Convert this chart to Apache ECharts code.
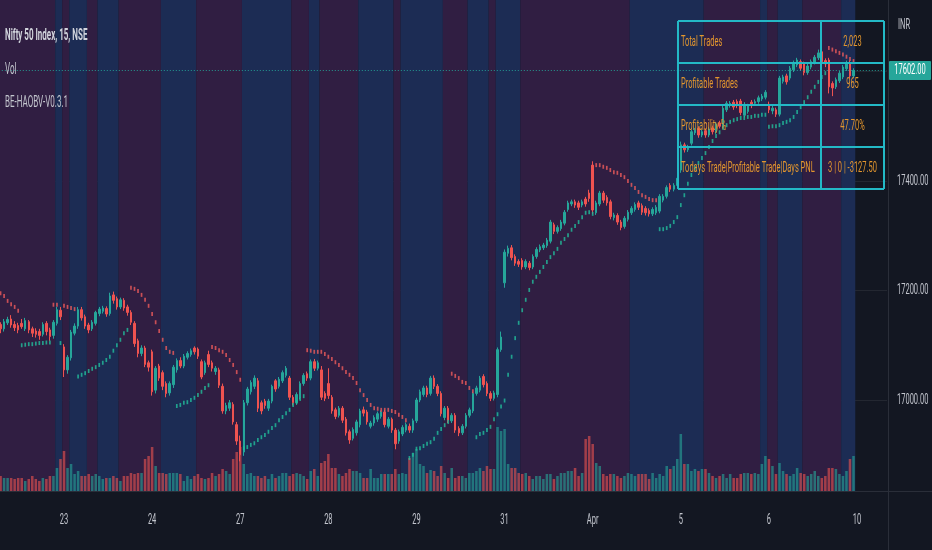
<!DOCTYPE html>
<html><head><meta charset="utf-8">
<script src="https://cdn.jsdelivr.net/npm/echarts@6/dist/echarts.min.js"></script>
<style>html,body{margin:0;padding:0;background:#131722;}#c{width:932px;height:550px;}</style>
</head><body><div id="c"></div>
<script>
// ---------------- DATA ----------------
const sessionDays = ['03-22','03-23','03-24','03-27','03-28','03-29','03-31','04-03','04-05','04-06','04-10'];
const slots = ['09:15','09:30','09:45','10:00','10:15','10:30','10:45','11:00','11:15','11:30','11:45','12:00','12:15','12:30','12:45','13:00','13:15','13:30','13:45','14:00','14:15','14:30','14:45','15:00','15:15'];
const firstSlotShown = 7;      // 22 Mar starts at 11:00 on screen
const futureSlots = 9;         // empty space for 10 Apr
const dayLabels = ['23','24','27','28','29','31','Apr','5','6','10'];   // for sessionDays[1..10]
const priceTicks = [17000, 17200, 17400];
const axisCurrency = 'INR';
const titleLines = ['Nifty 50 Index, 15, NSE', 'Vol', 'BE-HAOBV-V0.3.1'];
const tableLabels = ['Total Trades', 'Profitable Trades', 'Profitability %', 'Todays Trade|Profitable Trade|Days PNL'];
const tableValues = ['2,023', '965', '47.70%', '3 | 0 | -3127.50'];

// [open, close, low, high] per 15-minute bar
const ohlc = [
// 22 Mar
[17138,17130,17122,17142],[17130,17143,17125,17148],[17141,17147,17137,17152],[17148,17137,17132,17155],[17138,17132,17126,17144],[17136,17128,17122,17141],[17140,17134,17130,17148],[17130,17145,17126,17150],[17143,17128,17122,17146],[17130,17122,17115,17134],[17126,17120,17114,17131],[17125,17118,17110,17130],[17120,17138,17116,17142],[17140,17125,17118,17144],[17128,17116,17108,17132],[17118,17142,17112,17146],[17140,17165,17136,17170],[17164,17152,17146,17170],
// 23 Mar
[17097,17055,17042,17102],[17055,17078,17048,17082],[17077,17124,17072,17128],[17122,17135,17118,17140],[17135,17165,17130,17170],[17165,17150,17145,17170],[17152,17135,17130,17156],[17137,17128,17122,17141],[17130,17142,17126,17146],[17140,17160,17136,17163],[17158,17166,17153,17170],[17162,17168,17158,17172],[17167,17157,17152,17171],[17158,17190,17154,17196],[17192,17182,17176,17198],[17185,17170,17165,17189],[17170,17183,17166,17187],[17182,17168,17163,17186],[17170,17160,17154,17174],[17160,17142,17137,17164],[17140,17103,17097,17144],[17108,17085,17078,17112],[17085,17095,17080,17100],[17095,17065,17060,17099],[17068,17060,17052,17072],
// 24 Mar
[17088,17015,17008,17092],[17018,17058,17012,17062],[17062,17040,17035,17066],[17050,17025,17018,17054],[17030,17012,17005,17034],[17013,17030,17008,17034],[17028,17060,17022,17064],[17055,17072,17050,17076],[17072,17062,17058,17078],[17062,17080,17058,17084],[17078,17085,17074,17089],[17083,17090,17079,17094],[17095,17088,17083,17098],[17093,17080,17075,17096],[17070,17042,17038,17074],[17050,17068,17046,17072],[17083,17065,17060,17090],[17068,17058,17052,17072],[17052,17058,17046,17062],[17055,17027,17022,17059],[17025,16980,16975,17030],[16980,16990,16974,16995],[16985,16995,16980,17000],[16992,16960,16955,16996],[16955,16925,16918,16960],
// 27 Mar
[16925,16900,16888,16935],[16905,16995,16898,17000],[16995,17020,16990,17024],[17015,17032,17010,17036],[17025,17040,17020,17045],[17035,16985,16978,17040],[16995,16980,16974,16999],[16998,16990,16984,17002],[16985,16998,16980,17002],[16998,17025,16994,17028],[17035,17020,17015,17038],[17025,17038,17021,17042],[17035,17050,17031,17054],[17045,17058,17041,17062],[17040,17005,17000,17044],[17005,16995,16990,17009],[16995,17010,16991,17014],[17005,17030,17001,17034],[17030,17045,17026,17049],[17048,17040,17035,17052],[17040,17070,17036,17074],[17070,17058,17053,17075],[17058,17068,17054,17072],[17055,17005,17000,17062],[17012,17003,16998,17016],
// 28 Mar
[17030,17008,17002,17058],[17005,16980,16975,17009],[16982,16970,16965,16986],[16972,16985,16968,16989],[16985,16963,16958,16989],[16965,16940,16935,16969],[16942,16927,16920,16946],[16930,16946,16926,16950],[16940,16960,16935,16964],[16955,16980,16950,16984],[16982,16976,16970,16988],[16978,16960,16955,16982],[16952,16958,16948,16962],[16958,16968,16953,16972],[16965,16975,16960,16979],[16970,16978,16966,16981],[16978,16955,16950,16982],[16952,16965,16948,16969],[16965,16945,16940,16968],[16945,16920,16910,16949],[16925,16942,16920,16946],[16938,16950,16934,16954],[16945,16955,16941,16959],[16952,16945,16940,16957],[16945,16962,16940,16966],
// 29 Mar
[16962,17000,16958,17004],[17000,17015,16996,17019],[17010,17022,17006,17026],[17022,17010,17005,17026],[17012,17040,17008,17044],[17040,17025,17020,17045],[17025,17012,17007,17029],[17012,16975,16970,17016],[16968,16985,16963,16989],[16985,16963,16958,16989],[16962,16972,16958,16976],[16972,16945,16940,16976],[16948,16940,16934,16952],[16940,16952,16936,16956],[16952,16972,16948,16976],[16972,16982,16968,16986],[16980,17012,16976,17015],[17012,17022,17008,17026],[17018,17040,17014,17044],[17043,17028,17023,17047],[17030,17012,17007,17034],[17012,17003,16998,17016],[17003,17013,16999,17017],[17010,17092,17005,17096],[17092,17115,17088,17125],
// 31 Mar
[17214,17270,17205,17275],[17268,17277,17262,17282],[17278,17260,17255,17283],[17262,17250,17245,17266],[17253,17248,17243,17257],[17255,17243,17238,17259],[17243,17253,17239,17257],[17250,17242,17237,17254],[17243,17262,17239,17266],[17262,17275,17258,17279],[17274,17280,17270,17284],[17278,17283,17274,17287],[17282,17292,17278,17296],[17290,17325,17286,17329],[17320,17308,17303,17324],[17308,17315,17304,17319],[17313,17325,17309,17329],[17323,17343,17319,17347],[17348,17360,17344,17364],[17358,17362,17354,17366],[17362,17356,17351,17366],[17360,17352,17347,17364],[17356,17362,17352,17366],[17367,17358,17353,17371],[17378,17368,17362,17384],
// 3 Apr
[17429,17347,17340,17436],[17342,17360,17338,17364],[17358,17378,17354,17382],[17378,17365,17360,17382],[17370,17360,17355,17374],[17362,17335,17330,17366],[17333,17338,17328,17342],[17337,17325,17320,17341],[17325,17315,17310,17329],[17317,17332,17313,17336],[17330,17343,17326,17347],[17342,17350,17338,17354],[17348,17357,17344,17361],[17360,17352,17347,17364],[17355,17343,17338,17359],[17350,17342,17337,17354],[17346,17340,17335,17350],[17340,17348,17336,17352],[17342,17352,17338,17356],[17345,17372,17341,17376],[17365,17372,17361,17376],[17372,17388,17368,17392],[17392,17385,17380,17396],[17385,17392,17381,17396],[17392,17405,17386,17410],
// 5 Apr
[17420,17466,17415,17472],[17466,17457,17452,17470],[17457,17462,17453,17466],[17469,17490,17465,17494],[17488,17493,17484,17497],[17496,17484,17479,17500],[17484,17490,17480,17494],[17492,17484,17479,17496],[17484,17495,17480,17499],[17497,17490,17485,17501],[17490,17504,17486,17508],[17506,17500,17496,17510],[17500,17533,17496,17537],[17530,17542,17526,17546],[17538,17542,17534,17546],[17544,17535,17530,17548],[17545,17538,17533,17549],[17546,17525,17520,17550],[17520,17540,17516,17544],[17527,17537,17523,17541],[17544,17538,17533,17548],[17542,17545,17538,17549],[17545,17552,17541,17556],[17550,17555,17546,17559],[17553,17562,17549,17566],
// 6 Apr
[17540,17530,17524,17545],[17528,17533,17522,17538],[17530,17522,17517,17534],[17522,17588,17518,17592],[17582,17590,17578,17594],[17592,17581,17576,17596],[17588,17606,17584,17610],[17603,17616,17599,17620],[17612,17621,17608,17625],[17618,17606,17601,17622],[17614,17598,17593,17618],[17598,17610,17594,17614],[17608,17618,17604,17622],[17617,17626,17613,17630],[17625,17634,17621,17640],[17636,17618,17613,17640],[17620,17614,17608,17624],[17621,17572,17560,17625],[17578,17570,17555,17582],[17572,17585,17568,17589],[17583,17597,17579,17601],[17590,17608,17586,17612],[17605,17616,17601,17620],[17616,17592,17587,17620],[17592,17602,17588,17606]
];

// volume (thousands) per bar
const volume = [
150,130,130,130,120,130,130,100,120,150,120,100,130,120,150,150,230,320,
400,230,270,170,200,150,150,170,150,170,150,120,130,130,150,130,100,150,150,180,170,180,180,320,350,
440,250,180,180,170,180,180,180,170,100,150,120,150,170,130,120,130,180,150,170,220,200,170,320,390,
440,270,170,180,150,150,130,150,120,170,130,150,180,180,150,170,180,170,150,120,200,220,150,280,300,
370,230,230,170,150,180,220,200,200,180,130,130,220,130,130,170,170,170,170,220,170,180,170,330,380,
420,270,250,180,210,200,150,250,180,130,230,130,150,150,130,180,180,200,230,200,250,220,220,640,600,
620,270,230,230,180,170,180,150,120,150,150,120,170,170,120,150,180,180,200,200,230,150,180,520,550,
470,280,250,170,150,170,170,150,130,150,180,170,150,170,170,170,120,180,130,170,150,250,220,250,320,
570,270,270,200,220,200,220,220,180,150,130,150,170,130,170,130,130,170,180,180,170,180,170,270,350,
320,250,170,280,200,170,150,170,230,180,170,150,170,200,150,130,150,230,230,220,170,150,200,320,350
];

// trailing stop dots (one value per bar)
const sar = [
17195,17190,17181,17175,17170,17163,
17100,17101,17102,17102,17103,17104,17104,17105,17105,
17174,17174,17104,17172,17170,17168,17166,
17043,17046,17049,17053,17057,17060,17064,17068,17073,17079,17090,17100,17110,17122,17128,
17205,17203,17199,17192,17183,17172,17157,17142,17126,17110,17095,17088,17086,
16989,16991,16995,16996,17000,17004,17009,17015,17022,17027,
17097,17095,17091,17088,17082,17073,17064,17051,17037,
16912,16914,16918,16921,16927,16932,16936,16942,16949,16954,16963,16969,16976,16982,16991,16996,17002,17007,
17091,17090,17088,17088,17088,17084,17079,17075,17069,17064,17058,17051,17046,17040,17031,17018,17009,17000,16991,16985,16984,16982,16982,16982,16980,16978,16973,16969,16963,
16894,16900,16911,16912,16916,16920,16923,16929,16940,16947,16954,16960,
17048,17044,17040,17033,17031,17022,17016,
16932,16938,16940,16945,16951,16965,16974,16988,16999,17046,17079,17113,17141,17164,17183,17201,17216,17225,17234,17243,17252,17261,17268,17276,17287,17294,17301,17311,17318,17325,17334,17342,17343,17340,
17429,17429,17426,17424,17420,17416,17415,17411,17407,17400,17393,17387,17380,17374,17371,17367,17365,17365,
17312,17312,17314,17318,17325,17334,17356,17374,17395,17411,17424,17433,17442,17451,17462,17473,17482,17489,17497,17502,17508,17511,17513,17515,17515,17517,17517,17519,17519,17521,17521,
17499,17500,17500,17502,17506,17508,17511,17517,17526,17535,17544,17553,17563,17572,17581,17590,17597,
17643,17640,17637,17634,17631,17627,17623,17619
];

// indicator background state per bar range [firstBar, lastBar, state]
const bgBands = [
[0,15,'bear'],[16,17,'bull'],[18,19,'bear'],[20,24,'bull'],[25,27,'bear'],[28,33,'bull'],[34,45,'bear'],[46,55,'bull'],
[56,68,'bear'],[69,82,'bull'],[83,87,'bear'],[88,90,'bull'],[91,101,'bear'],[102,111,'bull'],[112,113,'bear'],[114,125,'bull'],
[126,132,'bear'],[133,138,'bull'],[139,140,'bear'],[141,147,'bull'],[148,178,'bear'],[179,199,'bull'],[200,215,'bear'],
[216,217,'bull'],[218,220,'bear'],[221,227,'bull'],[228,238,'bear'],[239,242,'bull']
];

// ---------------- STYLE / BUILD ----------------
const C = {
  bg:'#131722', bear:'#301e42', bull:'#1c2c54', up:'#26a69a', down:'#ef5350',
  volUp:'rgba(38,166,154,0.6)', volDown:'rgba(239,83,80,0.6)',
  sarUp:'#22bf9c', sarDown:'#f05b5b', text:'#c3c6ce', title:'#d1d4dc',
  grid:'rgba(255,255,255,0.07)', sep:'#2a2e39', table:'#23b9c6', tableText:'#e3962e'
};
const cats = [];
sessionDays.forEach((d, i) => {
  const from = i === 0 ? firstSlotShown : 0;
  const to = i === sessionDays.length - 1 ? futureSlots : slots.length;
  for (let s = from; s < to; s++) cats.push(d + ' ' + slots[s]);
});
const nCat = cats.length;
const lastPrice = ohlc[ohlc.length - 1][1];

const sarAbove = sar.map((v, k) => v > ohlc[k][1] ? v : '-');
const sarBelow = sar.map((v, k) => v <= ohlc[k][1] ? v : '-');
const volData = volume.map((v, k) => ({
  value: v, itemStyle: { color: ohlc[k][1] >= ohlc[k][0] ? C.volUp : C.volDown }
}));
const bandAreas = bgBands.map(([s, e, st]) => [
  { xAxis: s - 0.5, itemStyle: { color: st === 'bear' ? C.bear : C.bull } },
  { xAxis: e + 0.5 }
]);

const L = -1.2, R = 45;
const gridBase = { outerBoundsMode: 'none', containLabel: false };
const option = {
  backgroundColor: C.bg,
  animation: false,
  grid: [
    Object.assign({ left: L, right: R, top: -38, bottom: 40.5 }, gridBase),   // price
    Object.assign({ left: L, right: R, top: 371, bottom: 59 }, gridBase),     // volume
    Object.assign({ left: L, right: R, top: 0, bottom: 59 }, gridBase)        // background
  ],
  xAxis: [
    { type: 'category', gridIndex: 0, data: cats, boundaryGap: true, show: false },
    { type: 'category', gridIndex: 1, data: cats, boundaryGap: true, show: false },
    { type: 'value', gridIndex: 2, min: -0.5, max: nCat - 0.5, show: false }
  ],
  yAxis: [
    { type: 'value', gridIndex: 0, position: 'right', min: 16800, max: 17800, interval: 200,
      axisLine: { show: false }, axisTick: { show: false }, axisLabel: { show: false },
      splitLine: { show: true, lineStyle: { width: 1,
        color: ['rgba(0,0,0,0)', C.grid, C.grid, C.grid, C.grid, 'rgba(0,0,0,0)'] } } },
    { type: 'value', gridIndex: 1, min: 0, max: 1200, show: false, splitLine: { show: false } },
    { type: 'value', gridIndex: 2, min: 0, max: 1, show: false, splitLine: { show: false } }
  ],
  series: [
    { type: 'line', xAxisIndex: 2, yAxisIndex: 2, data: [[0, 0]], symbol: 'none', silent: true, z: -10,
      lineStyle: { opacity: 0 }, markArea: { silent: true, data: bandAreas } },
    { type: 'bar', xAxisIndex: 1, yAxisIndex: 1, data: volData, barWidth: '72%', silent: true, z: 1 },
    { type: 'candlestick', xAxisIndex: 0, yAxisIndex: 0, data: ohlc, barWidth: 2, z: 3,
      itemStyle: { color: C.up, color0: C.down, borderColor: C.up, borderColor0: C.down, borderWidth: 1 },
      markLine: { silent: true, symbol: ['none', 'none'], label: { show: false },
        lineStyle: { color: C.up, type: [1, 2], width: 1, opacity: 0.9 },
        data: [{ yAxis: lastPrice }] } },
    { type: 'scatter', xAxisIndex: 0, yAxisIndex: 0, data: sarAbove, symbol: 'rect', symbolSize: [1.7, 4],
      itemStyle: { color: C.sarDown }, silent: true, z: 4 },
    { type: 'scatter', xAxisIndex: 0, yAxisIndex: 0, data: sarBelow, symbol: 'rect', symbolSize: [1.7, 4],
      itemStyle: { color: C.sarUp }, silent: true, z: 4 }
  ]
};

const chart = echarts.init(document.getElementById('c'));
chart.setOption(option);

// ---------------- TEXT / OVERLAYS (positions from the chart's scales) ----------------
const SX = 0.5, FF = 'Roboto, sans-serif';
function txt(x, y, text, o) {
  o = o || {};
  return { type: 'text', x: x, y: y, scaleX: SX, z: 100, silent: true,
    style: { text: text, fill: o.fill || C.text, fontSize: o.size || 15, fontFamily: FF,
      fontWeight: o.weight || 'normal', align: o.align || 'left', verticalAlign: 'middle' } };
}
const g = [];
// separators
g.push({ type: 'line', z: 90, silent: true, shape: { x1: 0, y1: 491.5, x2: 932, y2: 491.5 }, style: { stroke: C.sep, lineWidth: 1 } });
g.push({ type: 'line', z: 90, silent: true, shape: { x1: 888.5, y1: 0, x2: 888.5, y2: 550 }, style: { stroke: C.sep, lineWidth: 1 } });
// price axis labels
priceTicks.forEach(v => {
  const y = chart.convertToPixel({ yAxisIndex: 0 }, v);
  g.push(txt(897, y, v.toFixed(2)));
});
g.push(txt(898, 25, axisCurrency));
// last price badge
const yp = chart.convertToPixel({ yAxisIndex: 0 }, lastPrice);
g.push({ type: 'rect', z: 99, silent: true, shape: { x: 889, y: yp - 9.5, width: 42, height: 19, r: 1 }, style: { fill: C.up } });
g.push(txt(910, yp, lastPrice.toFixed(2), { fill: '#ffffff', align: 'center' }));
// day labels
dayLabels.forEach((t, i) => {
  const x = chart.convertToPixel({ xAxisIndex: 1 }, sessionDays[i + 1] + ' ' + slots[0]);
  g.push(txt(x, 520, t, { align: 'center' }));
});
// legend texts
g.push(txt(5, 36, titleLines[0], { fill: C.title, size: 16, weight: 'bold' }));
g.push(txt(5, 70, titleLines[1], { size: 16 }));
g.push(txt(5, 103, titleLines[2], { size: 16 }));
// stats table
const tx = [678, 821, 884], ty = [21, 63, 105, 147, 189];
ty.forEach(y => g.push({ type: 'line', z: 95, silent: true, shape: { x1: tx[0], y1: y, x2: tx[2], y2: y }, style: { stroke: C.table, lineWidth: 2 } }));
tx.forEach(x => g.push({ type: 'line', z: 95, silent: true, shape: { x1: x, y1: ty[0], x2: x, y2: ty[4] }, style: { stroke: C.table, lineWidth: 2 } }));
tableLabels.forEach((t, i) => {
  const yc = (ty[i] + ty[i + 1]) / 2;
  g.push(txt(tx[0] + 3, yc, t, { fill: C.tableText }));
  g.push(txt((tx[1] + tx[2]) / 2, yc, tableValues[i], { fill: C.tableText, align: 'center' }));
});
chart.setOption({ graphic: g });
</script></body></html>
